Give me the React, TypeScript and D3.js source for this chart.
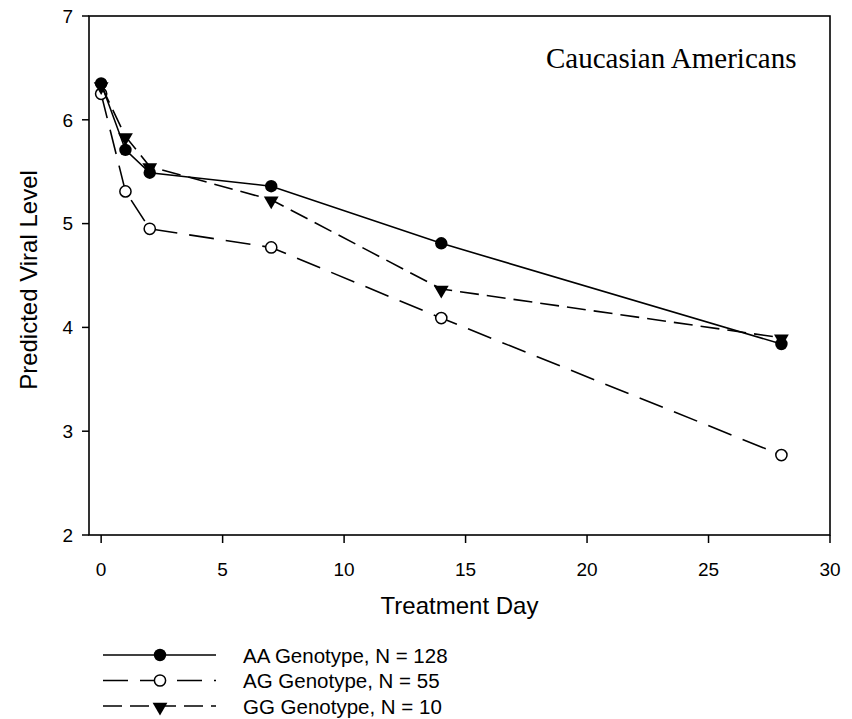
import React from 'react';
import * as d3 from 'd3';

const days = [0, 1, 2, 7, 14, 28];
const aaValues = [6.35, 5.71, 5.49, 5.36, 4.81, 3.84];
const agValues = [6.25, 5.31, 4.95, 4.77, 4.09, 2.77];
const ggValues = [6.33, 5.84, 5.55, 5.23, 4.37, 3.9];
const seriesLabels = ['AA Genotype, N = 128', 'AG Genotype, N = 55', 'GG Genotype, N = 10'];
const xTicks = [0, 5, 10, 15, 20, 25, 30];
const yTicks = [2, 3, 4, 5, 6, 7];

const W = 852;
const H = 719;
const PLOT = { left: 89, right: 830, top: 16, bottom: 535 };
const SANS = 'Arial, "Liberation Sans", sans-serif';
const SERIF = '"Times New Roman", "Liberation Serif", serif';

const x = d3.scaleLinear().domain([-0.5, 30]).range([PLOT.left, PLOT.right]);
const y = d3.scaleLinear().domain([2, 7]).range([PLOT.bottom, PLOT.top]);

const series = [
  { key: 'AA', label: seriesLabels[0], values: aaValues, dash: 'none', marker: 'filled' },
  { key: 'AG', label: seriesLabels[1], values: agValues, dash: '25,12', marker: 'open' },
  { key: 'GG', label: seriesLabels[2], values: ggValues, dash: '19,8', marker: 'tri' },
];

const tri = d3.symbol(d3.symbolTriangle, 95)();

function Marker({ type, cx, cy }: { type: string; cx: number; cy: number }) {
  if (type === 'filled') return <circle cx={cx} cy={cy} r={6.2} fill="#000" />;
  if (type === 'open') return <circle cx={cx} cy={cy} r={5.6} fill="#fff" stroke="#000" strokeWidth={1.5} />;
  return <path d={tri || ''} transform={`translate(${cx},${cy + 1}) rotate(180)`} fill="#000" />;
}

export default function App() {
  const line = d3.line<number>().x((_, i) => x(days[i])).y(d => y(d));
  // draw order: AG, GG, AA on top
  const drawOrder = [series[1], series[2], series[0]];

  return (
    <svg width={W} height={H} style={{ position: 'absolute', left: 0, top: 0, background: '#fff' }}>
      <rect x={0} y={0} width={W} height={H} fill="#fff" />

      {/* frame */}
      <rect x={PLOT.left} y={PLOT.top} width={PLOT.right - PLOT.left} height={PLOT.bottom - PLOT.top}
        fill="none" stroke="#000" strokeWidth={1.6} />

      {/* y ticks */}
      {yTicks.map(t => (
        <g key={'y' + t}>
          <line x1={PLOT.left - 7} x2={PLOT.left} y1={y(t)} y2={y(t)} stroke="#000" strokeWidth={1.5} />
          <text x={73} y={y(t)} dy="0.36em" textAnchor="end" fontFamily={SANS} fontSize={19} fill="#000">{t}</text>
        </g>
      ))}

      {/* x ticks */}
      {xTicks.map(t => (
        <g key={'x' + t}>
          <line x1={x(t)} x2={x(t)} y1={PLOT.bottom} y2={PLOT.bottom + 8} stroke="#000" strokeWidth={1.5} />
          <text x={x(t)} y={576} textAnchor="middle" fontFamily={SANS} fontSize={19} fill="#000">{t}</text>
        </g>
      ))}

      <text x={(PLOT.left + PLOT.right) / 2} y={614} textAnchor="middle" fontFamily={SANS} fontSize={24} fill="#000">Treatment Day</text>
      <text transform={`translate(37,${280}) rotate(-90)`} textAnchor="middle" fontFamily={SANS} fontSize={24} fill="#000">Predicted Viral Level</text>

      <text x={546} y={68} fontFamily={SERIF} fontSize={29} fill="#000">Caucasian Americans</text>

      {/* series */}
      {drawOrder.map(s => (
        <g key={s.key}>
          <path d={line(s.values) || ''} fill="none" stroke="#000" strokeWidth={1.6}
            strokeDasharray={s.dash === 'none' ? undefined : s.dash} />
          {s.values.map((v, i) => (
            <Marker key={i} type={s.marker} cx={x(days[i])} cy={y(v)} />
          ))}
        </g>
      ))}

      {/* legend */}
      {series.map((s, i) => {
        const ly = 655 + i * 25.5;
        return (
          <g key={'leg' + s.key}>
            <line x1={103} x2={216} y1={ly} y2={ly} stroke="#000" strokeWidth={1.6}
              strokeDasharray={s.dash === 'none' ? undefined : s.dash} />
            <Marker type={s.marker} cx={160} cy={ly} />
            <text x={243} y={ly + 7.5} fontFamily={SANS} fontSize={20.5} fill="#000">{s.label}</text>
          </g>
        );
      })}
    </svg>
  );
}
